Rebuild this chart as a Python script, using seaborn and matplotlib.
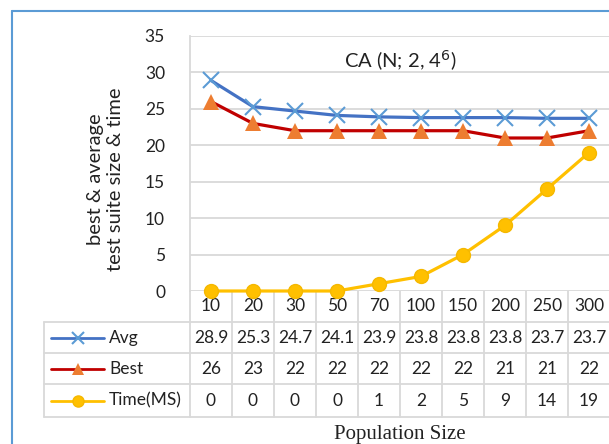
import matplotlib
matplotlib.use('Agg')
import matplotlib.pyplot as plt
import seaborn as sns
import pandas as pd

# data
pop_size = ['10', '20', '30', '50', '70', '100', '150', '200', '250', '300']
avg_size = [28.9, 25.3, 24.7, 24.1, 23.9, 23.8, 23.8, 23.8, 23.7, 23.7]
best_size = [26, 23, 22, 22, 22, 22, 22, 21, 21, 22]
time_ms = [0, 0, 0, 0, 1, 2, 5, 9, 14, 19]
y_ticks = [0, 5, 10, 15, 20, 25, 30, 35]

W, H = 609, 444
sns.set_style('white')
plt.rcParams['font.family'] = ['Lato', 'DejaVu Sans']

fig = plt.figure(figsize=(W / 100, H / 100), dpi=100)
# main plot area in pixel terms: x 190..610, y 36..291
ax = fig.add_axes([190 / W, 1 - 291 / H, 420 / W, 255 / H])

df = pd.DataFrame({'pop': pop_size, 'Avg': avg_size, 'Best': best_size, 'Time(MS)': time_ms})

series = [
    ('Avg', '#4472C4', dict(marker='x', markersize=11, markeredgewidth=1.5,
                            markeredgecolor='#5B9BD5', markerfacecolor='#5B9BD5')),
    ('Best', '#C00000', dict(marker='^', markersize=11, markeredgewidth=0,
                             markerfacecolor='#ED7D31')),
    ('Time(MS)', '#FFC000', dict(marker='o', markersize=10, markeredgewidth=1,
                                 markeredgecolor='#F5B800', markerfacecolor='#FFC000')),
]
for name, col, mk in series:
    sns.lineplot(data=df, x='pop', y=name, color=col, linewidth=2.3, ax=ax,
                 sort=False, clip_on=False, zorder=3, **mk)

ax.set_xlim(-0.5, len(pop_size) - 0.5)
ax.set_ylim(0, 35)
ax.set_yticks(y_ticks)
ax.set_yticklabels([str(t) for t in y_ticks], fontsize=12.5, color='#222222')
ax.tick_params(axis='y', length=0, pad=18)
ax.set_xticks([])
ax.set_xlabel('')
ax.set_ylabel('best & average\ntest suite size & time', fontsize=14.5,
              linespacing=1.25, color='#222222')
ax.yaxis.set_label_coords(-0.157, 0.44)
ax.yaxis.grid(True, color='#D9D9D9', linewidth=1.3)
for s in ['top', 'right', 'bottom']:
    ax.spines[s].set_visible(False)
ax.spines['left'].set_color('#D9D9D9')
ax.spines['left'].set_linewidth(1.3)
ax.text(0.5, 0.905, 'CA (N; 2, 4$^{6}$)', transform=ax.transAxes, ha='center',
        va='center', fontsize=14.5, color='#222222')

# overlay in pixel coordinates for the data table
tab = fig.add_axes([0, 0, 1, 1], zorder=-1)
tab.set_xlim(0, W)
tab.set_ylim(H, 0)
tab.axis('off')
tab.patch.set_alpha(0)

fig.canvas.draw()
cx = [ax.transData.transform((i, 0))[0] for i in range(len(pop_size))]
edges = [ax.transData.transform((i - 0.5, 0))[0] for i in range(len(pop_size) + 1)]

gc = '#D9D9D9'
rows_y = [291, 322, 353, 384, 417]
for ex in edges:
    tab.plot([ex, ex], [291, 417], color=gc, lw=1.3)
tab.plot([44, 44], [322, 417], color=gc, lw=1.3)
for ry in rows_y[1:]:
    tab.plot([44, W + 5], [ry, ry], color=gc, lw=1.3)

txt = dict(ha='center', va='center', fontsize=12.5, color='#222222')
for x, lab in zip(cx, pop_size):
    tab.text(x, 306, lab, **txt)

table_rows = [avg_size, best_size, time_ms]
for k, ((name, col, mk), vals) in enumerate(zip(series, table_rows)):
    yc = (rows_y[k + 1] + rows_y[k + 2]) / 2
    for x, v in zip(cx, vals):
        tab.text(x, yc, str(v), **txt)
    tab.plot([51, 104], [yc, yc], color=col, lw=2)
    tab.plot([78], [yc], color=col, lw=0, **{**mk, 'markersize': mk['markersize'] - 2})
    tab.text(109, yc, name, ha='left', va='center', fontsize=12.5, color='#222222')

tab.text((190 + 610) / 2, 434, 'Population Size', ha='center', va='center',
         fontsize=15, family='Liberation Serif', color='#222222')

# outer chart border
tab.plot([12, 12], [11, H + 5], color='#5B9BD5', lw=1.5)
tab.plot([12, W + 5], [11, 11], color='#5B9BD5', lw=1.5)

fig.savefig('out.png', dpi=100)
